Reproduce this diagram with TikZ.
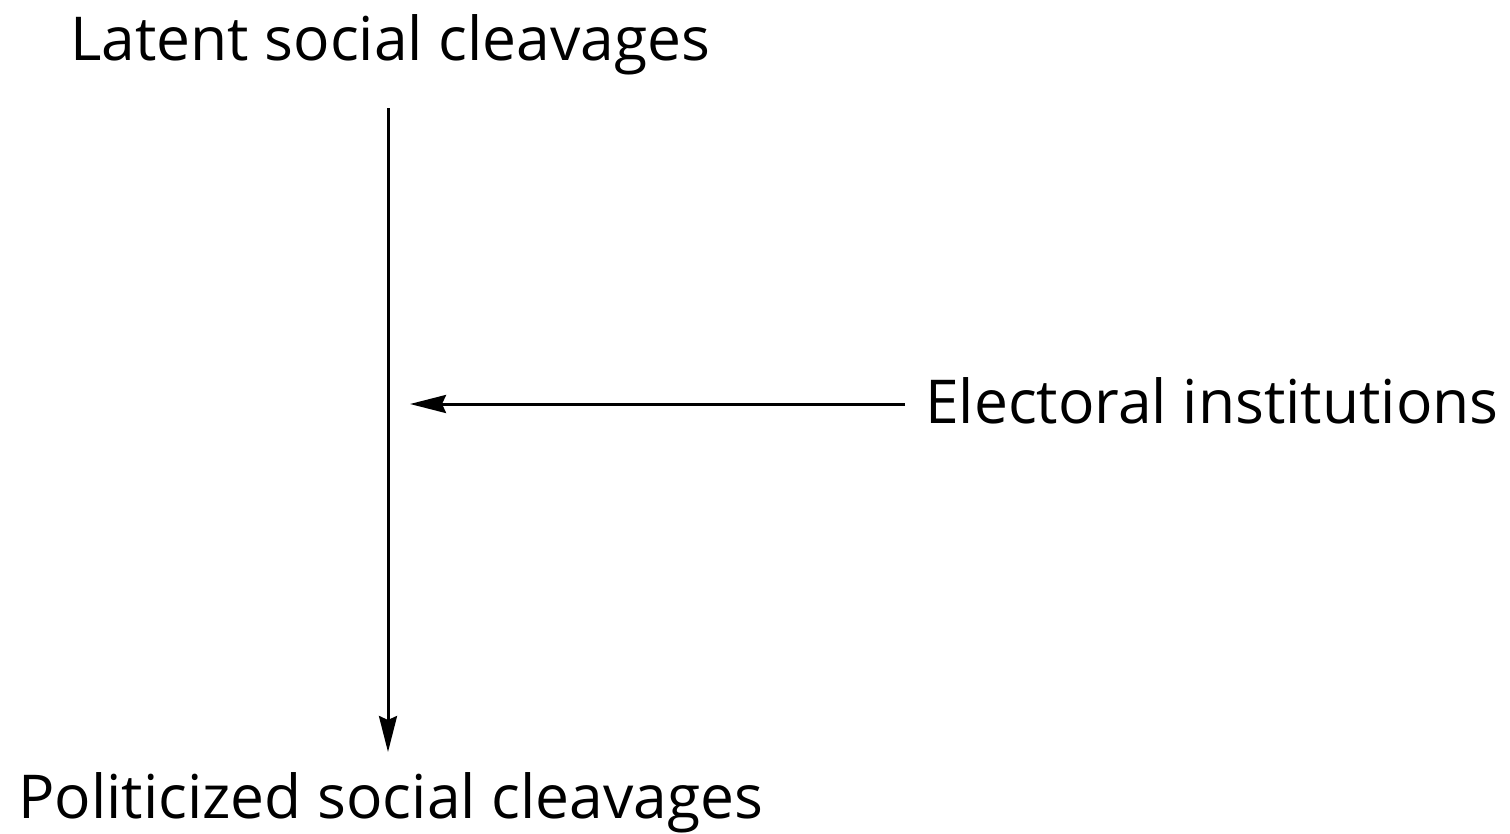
\documentclass[tikz,border=0pt]{standalone}
\usepackage{fontspec}
\setmainfont{Open Sans}
\usetikzlibrary{arrows.meta}
\tikzset{
  lbl/.style={inner sep=0pt, anchor=base west, font=\fontsize{60.5}{64}\selectfont},
  conn/.style={line width=3pt, -{Stealth[length=36pt,width=18pt,inset=4pt]}}
}
\begin{document}
\begin{tikzpicture}[x=1pt,y=-1pt]
\useasboundingbox (0,0) rectangle (1510,833);
\node[lbl] (latent) at (70,60) {Latent social cleavages};
\node[lbl] (elec) at (925,423) {Electoral institutions};
\node[lbl] (pol) at (18,818) {Politicized social cleavages};
\coordinate (vtop) at (388,108);
\coordinate (vbot) at (388,752);
\coordinate (hstart) at (905,404);
\coordinate (hend) at (410,404);
\draw[conn] (vtop) -- (vbot);
\draw[conn] (hstart) -- (hend);
\end{tikzpicture}
\end{document}
